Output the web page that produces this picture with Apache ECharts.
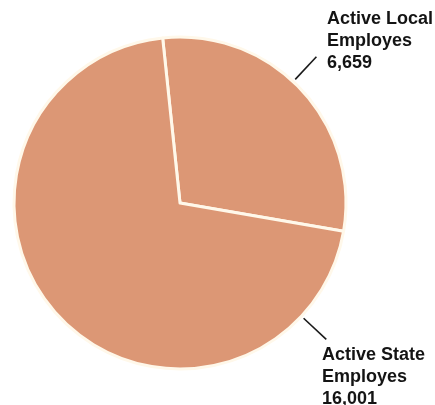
<!DOCTYPE html>
<html>
<head>
<meta charset="utf-8">
<style>
  html, body { margin: 0; padding: 0; background: #ffffff; }
  #chart { width: 435px; height: 405px; }
</style>
<script src="https://cdn.jsdelivr.net/npm/echarts@6/dist/echarts.min.js"></script>
</head>
<body>
<div id="chart"></div>
<script>
// Active employees by employer type
var categories = ['Active Local\nEmployes', 'Active State\nEmployes'];
var employees = [6659, 16001];

// Pie geometry (px)
var CENTER = [180, 203];
var RADIUS = 166;
// Direction of each callout line (degrees, counter-clockwise from 3 o'clock)
var CALLOUT_ANGLE = [47, -43];
// Top-left corner of each label block
var LABEL_POS = [[327, 8], [322, 344]];

function polar(angleDeg, r) {
  var a = angleDeg * Math.PI / 180;
  return [CENTER[0] + r * Math.cos(a), CENTER[1] - r * Math.sin(a)];
}

var chart = echarts.init(document.getElementById('chart'), null, { renderer: 'canvas' });

chart.setOption({
  backgroundColor: '#ffffff',
  animation: false,
  series: [{
    type: 'pie',
    center: CENTER,
    radius: RADIUS,
    startAngle: 96,
    clockwise: true,
    avoidLabelOverlap: false,
    itemStyle: {
      color: '#dc9775',
      borderColor: '#fff8ea',
      borderWidth: 3
    },
    emphasis: { disabled: true },
    label: {
      show: true,
      position: 'outside',
      color: '#141414',
      fontFamily: '"Liberation Sans", Arial, Helvetica, sans-serif',
      fontWeight: 'bold',
      fontSize: 18,
      lineHeight: 22,
      formatter: function (p) {
        return p.name + '\n' + p.value.toLocaleString('en-US');
      }
    },
    labelLine: {
      show: true,
      length: 30,
      length2: 0,
      lineStyle: { color: '#1a1a1a', width: 1.6 }
    },
    labelLayout: function (params) {
      var i = params.dataIndex;
      var p0 = polar(CALLOUT_ANGLE[i], RADIUS + 3);
      var p1 = polar(CALLOUT_ANGLE[i], RADIUS + 34);
      return {
        x: LABEL_POS[i][0],
        y: LABEL_POS[i][1],
        align: 'left',
        verticalAlign: 'top',
        labelLinePoints: [p0, p1, p1]
      };
    },
    data: categories.map(function (name, i) {
      return { name: name, value: employees[i] };
    })
  }]
});
</script>
</body>
</html>
